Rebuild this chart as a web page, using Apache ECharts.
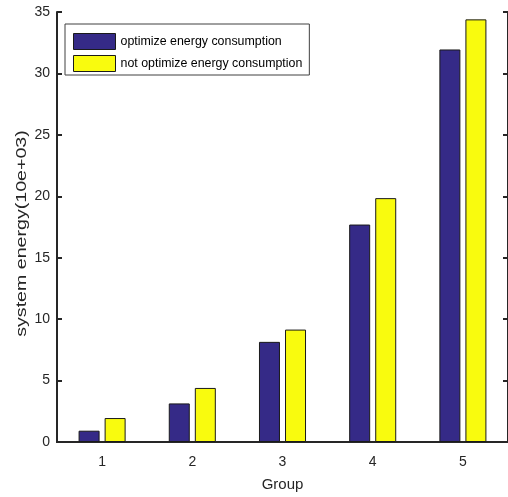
<!DOCTYPE html>
<html>
<head>
<meta charset="utf-8">
<script src="https://cdn.jsdelivr.net/npm/echarts@6/dist/echarts.min.js"></script>
<style>
html,body{margin:0;padding:0;background:#fff;}
#main{width:508px;height:497px;}
</style>
</head>
<body>
<div id="main"></div>
<script>
const categories = ['1', '2', '3', '4', '5'];
const optimizeValues = [0.92, 3.14, 8.15, 17.7, 31.95];
const notOptimizeValues = [1.95, 4.4, 9.15, 19.85, 34.4];
const seriesNames = ['optimize energy consumption', 'not optimize energy consumption'];
const yTicks = [0, 5, 10, 15, 20, 25, 30, 35];
const xAxisTitle = 'Group';
const yAxisTitle = 'system energy(10e+03)';

const FONT = '"Liberation Sans", Arial, sans-serif';
const AX = '#262626';

const chart = echarts.init(document.getElementById('main'), null, {renderer: 'canvas'});
const option = {
  backgroundColor: '#ffffff',
  animation: false,
  textStyle: {fontFamily: FONT},
  grid: {left: 57, right: -1, top: 12, bottom: 54, containLabel: false},
  legend: {
    left: 65, top: 24,
    orient: 'vertical',
    itemWidth: 42, itemHeight: 16, itemGap: 5,
    padding: [9, 7, 3, 8],
    borderColor: '#404040', borderWidth: 1,
    backgroundColor: '#ffffff',
    icon: 'rect',
    itemStyle: {borderWidth: 1, borderColor: '#1a1a1a'},
    textStyle: {fontSize: 12.4, color: '#000', fontFamily: FONT},
    data: seriesNames
  },
  xAxis: [{
    type: 'category',
    data: categories,
    position: 'bottom',
    name: xAxisTitle,
    nameLocation: 'middle',
    nameGap: 35,
    nameTextStyle: {fontSize: 15, color: AX, fontFamily: FONT},
    axisLine: {lineStyle: {color: AX, width: 2}},
    axisTick: {inside: true, length: 5, alignWithLabel: true, lineStyle: {color: AX, width: 2}},
    axisLabel: {fontSize: 14, color: AX, margin: 13, fontFamily: FONT},
    splitLine: {show: false}
  }, {
    type: 'category',
    data: categories,
    position: 'top',
    axisLine: {lineStyle: {color: AX, width: 2}},
    axisTick: {inside: true, length: 5, alignWithLabel: true, lineStyle: {color: AX, width: 2}},
    axisLabel: {show: false}
  }],
  yAxis: [{
    type: 'value',
    min: yTicks[0], max: yTicks[yTicks.length - 1], interval: 5,
    axisLine: {show: true, lineStyle: {color: AX, width: 2}},
    axisTick: {show: true, inside: true, length: 5, lineStyle: {color: AX, width: 2}},
    axisLabel: {fontSize: 14, color: AX, margin: 7, fontFamily: FONT},
    splitLine: {show: false}
  }, {
    type: 'value',
    position: 'right',
    min: yTicks[0], max: yTicks[yTicks.length - 1], interval: 5,
    axisLine: {show: true, lineStyle: {color: AX, width: 2}},
    axisTick: {show: true, inside: true, length: 5, lineStyle: {color: AX, width: 2}},
    axisLabel: {show: false},
    splitLine: {show: false}
  }],
  series: [{
    name: seriesNames[0],
    type: 'bar',
    data: optimizeValues,
    barWidth: 21,
    barGap: '24%',
    itemStyle: {color: '#352a87', borderColor: '#1a1a1a', borderWidth: 1}
  }, {
    name: seriesNames[1],
    type: 'bar',
    data: notOptimizeValues,
    barWidth: 21,
    barGap: '24%',
    itemStyle: {color: '#f9fb0e', borderColor: '#1a1a1a', borderWidth: 1}
  }],
  graphic: [{
    type: 'text',
    x: 22, y: 233.5,
    rotation: Math.PI / 2,
    scaleX: 1.4,
    style: {
      text: yAxisTitle,
      x: 0, y: 0,
      textAlign: 'center',
      textVerticalAlign: 'middle',
      font: '14px ' + FONT,
      fill: AX
    }
  }]
};
chart.setOption(option);
</script>
</body>
</html>
